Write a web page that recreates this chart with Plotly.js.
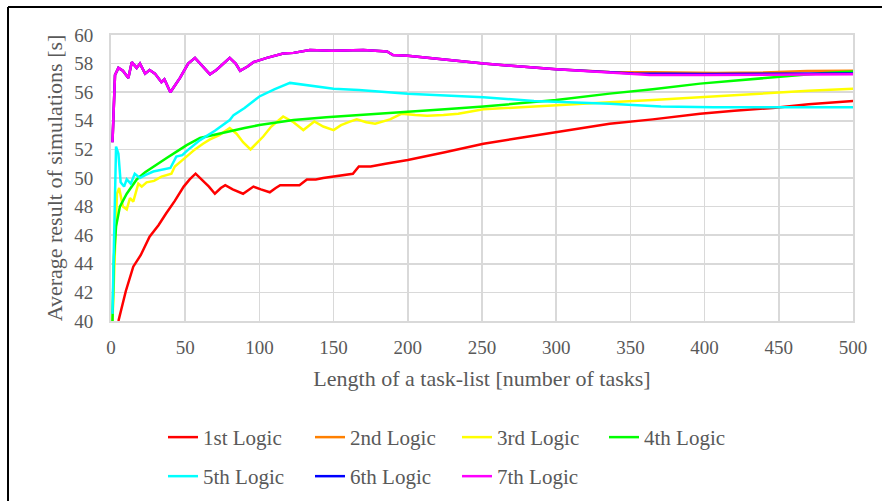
<!DOCTYPE html>
<html>
<head>
<meta charset="utf-8">
<script src="https://cdn.plot.ly/plotly-3.0.1.min.js"></script>
<style>html,body{margin:0;padding:0;background:#fff;}#chart{width:882px;height:501px;}</style>
</head>
<body>
<div id="chart"></div>
<script>
// Series names
const seriesNames = ["1st Logic","2nd Logic","3rd Logic","4th Logic","5th Logic","6th Logic","7th Logic"];
const seriesColors = ["#ff0000","#ff8000","#ffff00","#00ff00","#00ffff","#0000ff","#ff00ff"];

// 1st Logic
const x1 = [5,10,15,20,26,32,37,43,49,53,57,62,66,70,74,77,82,89,93,96,101,107,111,114,120,127,132,138,143,150,159,163,167,175,185,200,225,251,275,300,336,365,397,420,446,470,501];
const y1 = [40,42.1,43.8,44.6,45.9,46.7,47.5,48.4,49.4,49.9,50.3,49.8,49.4,48.9,49.3,49.5,49.2,48.9,49.2,49.4,49.2,49.0,49.3,49.5,49.5,49.5,49.9,49.9,50.0,50.1,50.2,50.3,50.8,50.8,51.0,51.26,51.8,52.4,52.8,53.2,53.8,54.1,54.5,54.7,54.9,55.15,55.4];

// 2nd Logic (mostly hidden under 7th)
const x2 = [1,2.7,5,8,11.7,14,17.3,19.5,23,26,29.6,34,36,40,46.5,52,56.6,60,66.7,71,76,80,84,87,92,96,105,116,123,134,149,160,170,186,190,200,213,251,300,336,365,408,440,469,501];
const y2 = [52.5,57.2,57.7,57.5,57.0,58.1,57.7,58.0,57.3,57.55,57.3,56.7,56.9,56.0,57.0,58.0,58.4,58.0,57.25,57.55,58.0,58.4,58.0,57.5,57.8,58.1,58.4,58.7,58.75,58.95,58.9,58.9,58.95,58.85,58.6,58.55,58.4,58.0,57.6,57.42,57.4,57.35,57.38,57.48,57.5];

// 3rd Logic
const x3 = [1,4,5.5,8,10.6,12.8,15,18.4,20.7,24,29,34,40.7,43,48.7,56.6,62,66.7,73,80,84.6,89,94,98,102.6,108,116,123,129.6,137,143,150,155,161,165.6,172,178,188,196,205,213,224,234,251,275,300,336,365,397,420,442,470,501];
const y3 = [40,48.9,49.3,48.0,47.8,48.6,48.35,49.6,49.4,49.7,49.8,50.1,50.3,50.8,51.3,52.0,52.4,52.7,53.0,53.5,53.1,52.5,52.0,52.4,52.9,53.6,54.3,53.9,53.35,53.95,53.6,53.35,53.7,53.94,54.1,53.9,53.8,54.1,54.5,54.4,54.35,54.4,54.5,54.8,54.95,55.1,55.3,55.45,55.65,55.8,55.95,56.1,56.25];

// 4th Logic
const x4 = [1,2,3.4,6,10.6,17.3,23,28.5,37.5,45,51,60,70,78,90,100,112,123,145,167,200,225,251,275,300,336,365,397,420,446,481,501];
const y4 = [40,44.5,46.6,48.0,48.9,49.9,50.4,50.8,51.4,51.9,52.3,52.8,53.05,53.25,53.5,53.7,53.9,54.05,54.25,54.4,54.6,54.8,55.0,55.2,55.45,55.9,56.2,56.6,56.8,57.0,57.35,57.45];

// 5th Logic
const x5 = [1,3.4,5,6.5,8.8,10.6,13.3,16,19.5,23,28.5,35,40,44,48,51.7,56,60,70,80,82.6,90,100,110,120.6,132,150,167,200,251,285,336,350,370.6,406,450,501];
const y5 = [40.5,52.2,51.7,49.7,49.4,49.9,49.6,50.3,50.0,50.2,50.45,50.6,50.7,51.5,51.6,51.95,52.3,52.65,53.3,54.05,54.4,54.9,55.7,56.2,56.65,56.5,56.25,56.15,55.9,55.65,55.38,55.2,55.1,55.0,54.95,54.95,54.95];

// 6th Logic (mostly hidden under 7th)
const x6 = [1,2.7,5,8,11.7,14,17.3,19.5,23,26,29.6,34,36,40,46.5,52,56.6,60,66.7,71,76,80,84,87,92,96,105,116,123,134,149,160,170,186,190,200,213,251,300,336,352,400,431,470,501];
const y6 = [52.5,57.2,57.7,57.5,57.0,58.1,57.7,58.0,57.3,57.55,57.3,56.7,56.9,56.0,57.0,58.0,58.4,58.0,57.25,57.55,58.0,58.4,58.0,57.5,57.8,58.1,58.4,58.7,58.75,58.95,58.9,58.9,58.95,58.85,58.6,58.55,58.4,58.0,57.6,57.36,57.3,57.28,57.28,57.3,57.3];

// 7th Logic
const x7 = [1,2.7,5,8,11.7,14,17.3,19.5,23,26,29.6,34,36,40,46.5,52,56.6,60,66.7,71,76,80,84,87,92,96,105,116,123,134,149,160,170,186,190,200,213,251,300,336,363,400,442,501];
const y7 = [52.5,57.2,57.7,57.5,57.0,58.1,57.7,58.0,57.3,57.55,57.3,56.7,56.9,56.0,57.0,58.0,58.4,58.0,57.25,57.55,58.0,58.4,58.0,57.5,57.8,58.1,58.4,58.7,58.75,58.95,58.9,58.9,58.95,58.85,58.6,58.55,58.4,58.0,57.6,57.36,57.2,57.2,57.2,57.25];

// Axis ticks
const xTicks = [0,50,100,150,200,250,300,350,400,450,500];
const yTicks = [40,42,44,46,48,50,52,54,56,58,60];

const xs = [x1,x2,x3,x4,x5,x6,x7];
const ys = [y1,y2,y3,y4,y5,y6,y7];

const traces = seriesNames.map((name, i) => ({
  type: "scatter",
  mode: "lines",
  name: name,
  x: xs[i],
  y: ys[i],
  legend: i < 4 ? "legend" : "legend2",
  line: {color: seriesColors[i], width: 2.5},
  hoverinfo: "skip"
}));

const fontFam = "'Liberation Serif', 'Times New Roman', serif";
const gray = "#595959";

const legendBase = {
  orientation: "h",
  xref: "container",
  yref: "container",
  xanchor: "left",
  yanchor: "top",
  entrywidth: 102,
  entrywidthmode: "pixels",
  font: {family: fontFam, size: 21, color: gray},
  bgcolor: "rgba(0,0,0,0)"
};

const layout = {
  width: 882,
  height: 501,
  paper_bgcolor: "#ffffff",
  plot_bgcolor: "#ffffff",
  margin: {l: 111, r: 29, t: 35, b: 180},
  font: {family: fontFam, color: gray, size: 18},
  showlegend: true,
  xaxis: {
    range: [0, 500],
    tickvals: xTicks,
    ticktext: xTicks.map(String),
    showgrid: true,
    gridcolor: "#d9d9d9",
    gridwidth: 1.5,
    showline: true,
    linecolor: "#d9d9d9",
    linewidth: 2,
    mirror: true,
    zeroline: false,
    ticks: "",
    ticklabelstandoff: 8,
    tickfont: {family: fontFam, size: 19, color: gray},
    title: {text: "Length of a task-list [number of tasks]", font: {family: fontFam, size: 22, color: gray}, standoff: 14}
  },
  yaxis: {
    range: [40, 60],
    tickvals: yTicks,
    ticktext: yTicks.map(String),
    showgrid: true,
    gridcolor: "#d9d9d9",
    gridwidth: 1.5,
    showline: true,
    linecolor: "#d9d9d9",
    linewidth: 2,
    mirror: true,
    zeroline: false,
    ticks: "",
    ticklabelstandoff: 12,
    tickfont: {family: fontFam, size: 19, color: gray},
    title: {text: "Average result of simulations [s]", font: {family: fontFam, size: 22, color: gray}, standoff: 6}
  },
  legend: Object.assign({}, legendBase, {x: 0.1848, y: 0.1677}),
  legend2: Object.assign({}, legendBase, {x: 0.1848, y: 0.0898}),
  shapes: [
    {type: "line", xref: "paper", yref: "paper", x0: -0.1388, x1: 1.1, y0: 1.098, y1: 1.098, line: {color: "#000", width: 2}},
    {type: "line", xref: "paper", yref: "paper", x0: -0.1388, x1: -0.1388, y0: 1.098, y1: -0.7, line: {color: "#000", width: 2}}
  ]
};

Plotly.newPlot("chart", traces, layout, {displayModeBar: false, staticPlot: true});
</script>
</body>
</html>
